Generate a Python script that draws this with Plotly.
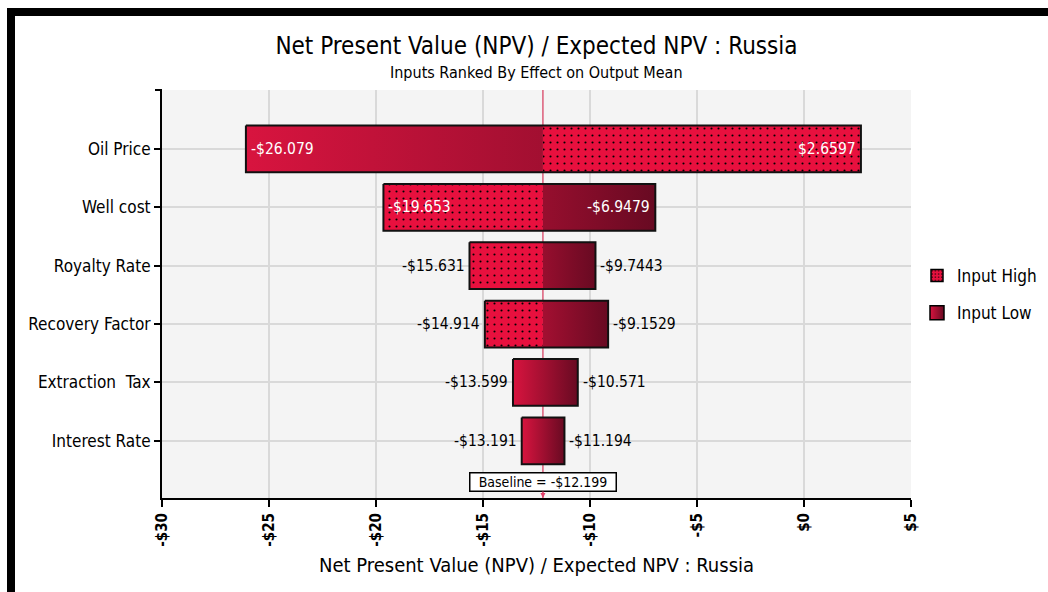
import plotly.graph_objects as go

# ---- data -----------------------------------------------------------------
categories = ["Oil Price", "Well cost", "Royalty Rate", "Recovery Factor",
              "Extraction  Tax", "Interest Rate"]
left_values = [-26.079, -19.653, -15.631, -14.914, -13.599, -13.191]
right_values = [2.6597, -6.9479, -9.7443, -9.1529, -10.571, -11.194]
left_series = ["Input Low", "Input High", "Input High", "Input High",
               "Input Low", "Input Low"]
right_series = ["Input High", "Input Low", "Input Low", "Input Low",
                "Input Low", "Input Low"]
baseline = -12.199
x_ticks = [-30, -25, -20, -15, -10, -5, 0, 5]
x_tick_labels = ["-$30", "-$25", "-$20", "-$15", "-$10", "-$5", "$0", "$5"]

# ---- styling ----------------------------------------------------------------
FONT = "DejaVu Sans Condensed, DejaVu Sans, sans-serif"
HIGH_COLOR = "#e8103e"
LOW_START = "#d8143f"
LOW_END = "#680a22"
BAR_HALF = 0.4
W, H = 1048, 592
PLOT_L, PLOT_R, PLOT_T, PLOT_B = 162, 911, 90, 498


def px_x(p):
    return (p - PLOT_L) / (PLOT_R - PLOT_L)


def px_y(p):
    return (PLOT_B - p) / (PLOT_B - PLOT_T)


def money(v):
    s = f"{abs(v):.5g}"
    return ("-$" if v < 0 else "$") + s


fig = go.Figure()

# segments per row: left part (value -> baseline) and right part (baseline -> value)
hi_rows, hi_base, hi_len = [], [], []
low_pieces = []  # (row, x0, x1)
for i in range(len(categories)):
    lo_l, hi_r = left_values[i], right_values[i]
    parts = [(lo_l, baseline, left_series[i]), (baseline, hi_r, right_series[i])]
    if left_series[i] == right_series[i] == "Input Low":
        low_pieces.append((i, lo_l, hi_r))
        continue
    for a, b, ser in parts:
        if ser == "Input High":
            hi_rows.append(i)
            hi_base.append(min(a, b))
            hi_len.append(abs(b - a))
        else:
            low_pieces.append((i, min(a, b), max(a, b)))

# Input High segments: dotted bars
fig.add_trace(go.Bar(
    orientation="h", y=hi_rows, base=hi_base, x=hi_len,
    width=BAR_HALF * 2,
    marker=dict(color=HIGH_COLOR, line=dict(width=0),
                pattern=dict(shape=".", fgcolor="black", bgcolor=HIGH_COLOR,
                             size=7, solidity=0.07, fillmode="replace")),
    showlegend=False, hoverinfo="skip",
))

# Input Low segments: gradient fills spanning the full bar extent
for (i, x0, x1) in low_pieces:
    fig.add_trace(go.Scatter(
        x=[x0, x1, x1, x0, x0],
        y=[i - BAR_HALF, i - BAR_HALF, i + BAR_HALF, i + BAR_HALF, i - BAR_HALF],
        mode="lines", fill="toself", line=dict(width=0),
        fillgradient=dict(type="horizontal",
                          colorscale=[[0, LOW_START], [1, LOW_END]],
                          start=min(left_values[i], right_values[i]),
                          stop=max(left_values[i], right_values[i])),
        showlegend=False, hoverinfo="skip",
    ))

# outline around each whole bar
ox, oy = [], []
for i in range(len(categories)):
    x0, x1 = left_values[i], right_values[i]
    ox += [x0, x1, x1, x0, x0, None]
    oy += [i - BAR_HALF, i - BAR_HALF, i + BAR_HALF, i + BAR_HALF, i - BAR_HALF, None]
fig.add_trace(go.Scatter(x=ox, y=oy, mode="lines",
                         line=dict(color="#111111", width=2),
                         showlegend=False, hoverinfo="skip"))

# legend entries
fig.add_trace(go.Bar(
    name="Input High", orientation="h", x=[None], y=[None],
    marker=dict(color=HIGH_COLOR, line=dict(color="black", width=1.5),
                pattern=dict(shape=".", fgcolor="black", bgcolor=HIGH_COLOR,
                             size=4, solidity=0.15, fillmode="replace")),
    legendgroup="hi", legendrank=1,
))
fig.add_trace(go.Scatter(
    name="Input Low", x=[None], y=[None], mode="markers",
    marker=dict(symbol="square", size=14, color=LOW_START,
                gradient=dict(type="horizontal", color=LOW_END),
                line=dict(color="black", width=1.5)),
    legendgroup="lo", legendrank=2,
))

# value labels
annotations = []
for i in range(len(categories)):
    for v, side in ((left_values[i], "left"), (right_values[i], "right")):
        inside = abs(v - baseline) > 4.5
        if side == "left":
            anchor = "left" if inside else "right"
            shift = 3 if inside else -3
        else:
            anchor = "right" if inside else "left"
            shift = -3 if inside else 3
        annotations.append(dict(
            x=v, y=i, xref="x", yref="y", text=money(v), showarrow=False,
            xanchor=anchor, xshift=shift, yanchor="middle",
            font=dict(family=FONT, size=15.5,
                      color="white" if inside else "black"),
        ))

# subtitle
annotations.append(dict(
    x=0.5, xref="paper", y=px_y(73), yref="paper", yanchor="middle",
    text="Inputs Ranked By Effect on Output Mean", showarrow=False,
    font=dict(family=FONT, size=16, color="black"),
))

# baseline callout
annotations.append(dict(
    x=baseline, xref="x", y=0, yref="paper",
    text=f"Baseline = {money(baseline)}", showarrow=True,
    ax=0, ay=-16, arrowhead=2, arrowsize=1, arrowwidth=1,
    arrowcolor="#e0406a", bgcolor="white", bordercolor="black",
    borderwidth=1.5, borderpad=1, width=143, height=15,
    font=dict(family=FONT, size=14, color="black"),
))

shapes = [
    # baseline line, underneath the bars
    dict(type="line", xref="x", yref="paper", x0=baseline, x1=baseline,
         y0=0, y1=1, line=dict(color="#d0103c", width=1), layer="below"),
    # small tick at the top of the y axis
    dict(type="line", xref="paper", yref="paper", x0=px_x(155), x1=px_x(162),
         y0=1, y1=1, line=dict(color="black", width=2)),
    # black frame (top and left)
    dict(type="rect", xref="paper", yref="paper", x0=px_x(7), x1=px_x(W + 5),
         y0=px_y(16), y1=px_y(8), fillcolor="black", line=dict(width=0)),
    dict(type="rect", xref="paper", yref="paper", x0=px_x(7), x1=px_x(15),
         y0=px_y(H + 5), y1=px_y(8), fillcolor="black", line=dict(width=0)),
]

fig.update_layout(
    width=W, height=H,
    margin=dict(l=PLOT_L, r=W - PLOT_R, t=PLOT_T, b=H - PLOT_B, autoexpand=False),
    paper_bgcolor="white", plot_bgcolor="#f4f4f4",
    barmode="overlay",
    font=dict(family=FONT, color="black"),
    title=dict(text="Net Present Value (NPV) / Expected NPV : Russia",
               x=0.5, xref="paper", y=1 - 46 / H, yref="container",
               yanchor="middle", xanchor="center",
               font=dict(family=FONT, size=24, color="black")),
    xaxis=dict(range=[-30, 5], tickvals=x_ticks, ticktext=x_tick_labels,
               tickangle=-90, tickfont=dict(family=FONT, size=15, color="black",
                                            weight="bold"),
               showline=True, linecolor="black", linewidth=2,
               ticks="outside", ticklen=7, tickwidth=1.5, tickcolor="black",
               showgrid=True, gridcolor="#d9d9d9", gridwidth=1.5,
               zeroline=False, fixedrange=True,
               title=dict(text="Net Present Value (NPV) / Expected NPV : Russia",
                          font=dict(family=FONT, size=20, color="black"),
                          standoff=12)),
    yaxis=dict(range=[5.98, -1.01], tickvals=list(range(len(categories))),
               ticktext=categories,
               tickfont=dict(family=FONT, size=17, color="black"),
               showline=True, linecolor="black", linewidth=2,
               ticks="outside", ticklen=6, tickwidth=1.5, tickcolor="black",
               showgrid=True, gridcolor="#d9d9d9", gridwidth=1.5,
               zeroline=False, fixedrange=True),
    legend=dict(x=px_x(917), y=px_y(258), xanchor="left", yanchor="top",
                font=dict(family=FONT, size=17, color="black"),
                bgcolor="rgba(0,0,0,0)", tracegroupgap=12,
                traceorder="grouped"),
    annotations=annotations,
    shapes=shapes,
)

fig.write_html("out.html")
